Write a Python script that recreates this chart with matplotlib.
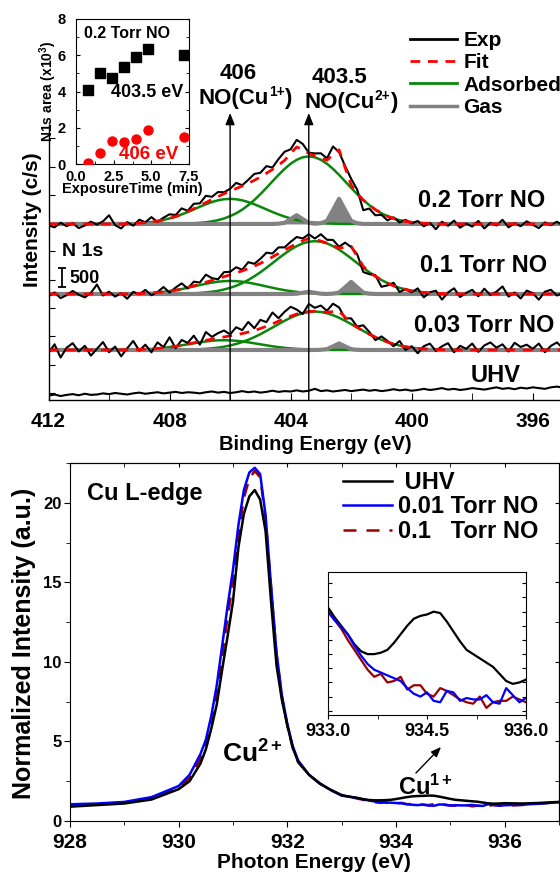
import numpy as np
import matplotlib
matplotlib.use('Agg')
import matplotlib.pyplot as plt
from matplotlib.lines import Line2D
from matplotlib.ticker import MultipleLocator, NullFormatter

plt.rcParams['font.family'] = ['Liberation Sans', 'DejaVu Sans']
plt.rcParams['font.weight'] = 'bold'
plt.rcParams['axes.labelweight'] = 'bold'
plt.rcParams['mathtext.fontset'] = 'custom'
plt.rcParams['mathtext.rm'] = 'Liberation Sans:bold'
plt.rcParams['mathtext.bf'] = 'Liberation Sans:bold'
plt.rcParams['mathtext.it'] = 'Liberation Sans:bold'
plt.rcParams['mathtext.default'] = 'bf'

# ---------------- N 1s XPS (top panel) ----------------
# binding energy grid, 0.2 eV steps from 412 to 395 eV
be = np.round(412.0 - 0.2 * np.arange(86), 1)

# adsorbed components (counts), listed from their first energy
ads_02_big_start, ads_02_big = 407.4, [11, 18, 29, 45, 68, 100, 145, 206, 283, 379, 498, 634, 789, 956, 1129, 1300, 1459, 1595, 1700, 1767, 1790, 1767, 1700, 1595, 1459, 1300, 1129, 956, 789, 634, 498, 379, 283, 206, 145, 100, 68, 45, 29, 18, 11]
ads_02_small_start, ads_02_small = 409.4, [9, 14, 22, 35, 51, 75, 106, 146, 196, 253, 317, 386, 456, 522, 581, 626, 655, 665, 655, 626, 581, 522, 456, 386, 317, 253, 196, 146, 106, 75, 51, 35, 22, 14, 9]
gas_02_start, gas_02 = 404.4, [7, 28, 128, 233, 128, 28, 7, 20, 80, 366, 665, 366, 80, 20]

ads_01_big_start, ads_01_big = 407.4, [11, 17, 27, 41, 59, 84, 119, 162, 218, 288, 371, 468, 575, 694, 818, 944, 1064, 1175, 1268, 1340, 1385, 1400, 1385, 1340, 1268, 1175, 1064, 944, 818, 694, 575, 468, 371, 288, 218, 162, 119, 84, 59, 41, 27, 17, 11]
ads_01_small_start, ads_01_small = 409.4, [4, 7, 11, 18, 27, 39, 55, 76, 101, 131, 165, 200, 236, 271, 301, 325, 340, 345, 340, 325, 301, 271, 236, 200, 165, 131, 101, 76, 55, 39, 27, 18, 11, 7, 4]
gas_01_start, gas_01 = 403.8, [7, 33, 60, 33, 7, 0, 10, 38, 176, 320, 176, 38, 10]

ads_003_big_start, ads_003_big = 407.4, [8, 12, 19, 30, 43, 61, 87, 118, 159, 210, 270, 340, 418, 505, 595, 686, 774, 854, 922, 974, 1007, 1018, 1007, 974, 922, 854, 774, 686, 595, 505, 418, 340, 270, 210, 159, 118, 87, 61, 43, 30, 19, 12, 8]
ads_003_small_start, ads_003_small = 409.6, [3, 5, 9, 13, 20, 29, 41, 57, 76, 98, 124, 150, 177, 203, 226, 244, 255, 259, 255, 244, 226, 203, 177, 150, 124, 98, 76, 57, 41, 29, 20, 13, 9, 5, 3]
gas_003_start, gas_003 = 403.0, [5, 21, 95, 173, 95, 21, 5]

# measured minus fit (counts), one value per grid point
resid_02 = [-40, -90, 30, -60, 20, -110, -40, 60, -20, 70,
            230, -30, -120, 40, -60, 90, 10, 130, -20, 60,
            110, 40, 160, 20, 130, 60, 180, 70, 120, 40,
            60, 150, 20, 90, 170, 110, 190, 50, 160, 230,
            110, 190, 150, 20, 60, 130, 50, 220, -60, 40,
            160, 100, -270, -90, -150, -40, -110, 30, -60, 40,
            -30, 50, -80, 20, -140, 60, -50, 90, -100, 10,
            -70, 80, -120, 30, -40, 110, -90, 20, -60, 70,
            -20, -110, 40, -30, 60, -50]
resid_01 = [-60, 40, -110, -30, 80, -20, -90, 30, 250, -40,
            60, -70, 20, -130, 50, -20, 90, -60, 10, 130,
            -40, 70, 150, -30, 110, 40, 200, 60, -20, 120,
            80, 150, 30, 170, 60, 120, 200, 90, 160, 70,
            130, 180, 60, 110, 20, 180, 90, 150, 40, 120,
            -20, 60, -150, -60, 30, -180, -60, 80, -110, 10,
            -40, 90, -130, 20, 70, -160, 40, 150, -80, 30,
            110, -60, 140, -30, 60, 200, -70, 40, -120, 90,
            20, -150, 60, 110, -40, 30]
resid_003 = [-80, 150, -200, 60, 180, -40, 110, -150, 30, 210,
             -60, 90, -170, 40, 230, -30, 120, -90, 160, 20,
             260, -50, 140, 30, 190, -80, 220, 60, 130, 170,
             40, 200, 90, 270, 60, 230, 110, 300, 80, 180,
             250, 120, -40, 200, 90, 160, 40, 210, 100, -30,
             130, 20, 150, 60, -80, 90, 30, -60, 120, -90,
             40, -130, 70, 150, -40, 90, 180, -60, 110, 30,
             170, -50, 120, 200, 60, 150, -40, 190, 80, 140,
             30, 170, -60, 110, 200, 40]
uhv = [-70, -40, -80, -50, -30, -60, -20, -50, -40, -10,
       -30, 0, -20, -40, -10, 10, -20, 0, 20, -10,
       10, 30, 0, 20, 10, -10, 20, 40, 10, 30,
       0, 20, 50, 20, 40, 10, 30, 60, 30, 50,
       40, 70, 40, 60, 110, 50, 70, 40, 60, 80,
       50, 70, 90, 60, 80, 50, 70, 100, 70, 90,
       60, 80, 110, 80, 100, 130, 90, 110, 80, 100,
       130, 110, 90, 120, 150, 110, 130, 100, 140, 120,
       150, 130, 110, 150, 170, 140]

pressure_labels = ['0.2 Torr NO', '0.1 Torr NO', '0.03 Torr NO', 'UHV']
peak_positions = [406.0, 403.4]

# inset: N1s areas vs exposure time at 0.2 Torr
t_min = [0.8, 1.6, 2.4, 3.2, 4.0, 4.8, 7.2]
area_4035 = [4.08, 5.0, 4.76, 5.37, 5.89, 6.36, 6.01]
area_406 = [0.04, 0.63, 1.29, 1.23, 1.38, 1.89, 1.49]

# ---------------- Cu L-edge XAS (bottom panel) ----------------
pe_main = [928.0, 928.5, 929.0, 929.5, 930.0, 930.2, 930.4, 930.5, 930.6, 930.7,
           930.8, 930.9, 931.0, 931.1, 931.2, 931.3, 931.4, 931.5, 931.6, 931.7,
           931.8, 931.9, 932.0, 932.1, 932.2, 932.4, 932.6, 932.8]
uhv_main = [0.9, 1.0, 1.1, 1.35, 2.0, 2.5, 3.6, 4.5, 5.8, 7.3,
            9.5, 11.6, 13.8, 17.2, 19.3, 20.4, 20.8, 20.2, 18.2, 13.8,
            9.8, 7.6, 6.0, 4.6, 3.7, 2.9, 2.35, 1.95]
no001_main = [1.05, 1.1, 1.2, 1.5, 2.2, 2.9, 4.2, 5.1, 6.6, 8.5,
              11.0, 13.5, 15.8, 18.6, 20.8, 21.9, 22.2, 21.8, 19.2, 14.8,
              10.6, 7.9, 6.1, 4.7, 3.8, 2.9, 2.35, 1.95]
no01_main = [1.0, 1.05, 1.15, 1.45, 2.1, 2.7, 3.9, 4.8, 6.2, 8.0,
             10.3, 12.8, 15.0, 18.0, 20.3, 21.5, 22.0, 21.6, 19.0, 14.7,
             10.5, 7.8, 6.0, 4.6, 3.7, 2.9, 2.35, 1.95]

pe_zoom = np.round(933.0 + 0.1 * np.arange(31), 1)
uhv_zoom = [1.63, 1.56, 1.50, 1.44, 1.37, 1.32, 1.30, 1.30, 1.31, 1.33,
            1.38, 1.44, 1.50, 1.55, 1.57, 1.58, 1.60, 1.59, 1.53, 1.46,
            1.39, 1.33, 1.30, 1.27, 1.24, 1.21, 1.16, 1.11, 1.09, 1.10, 1.12]
no001_zoom = [1.60, 1.54, 1.49, 1.44, 1.36, 1.29, 1.23, 1.19, 1.17, 1.15,
              1.13, 1.11, 1.06, 1.02, 1.00, 1.03, 0.97, 0.96, 1.04, 1.03,
              0.97, 0.99, 0.98, 0.98, 1.01, 0.96, 0.95, 1.06, 1.01, 0.96, 0.99]
no01_zoom = [1.60, 1.54, 1.48, 1.40, 1.33, 1.26, 1.19, 1.14, 1.16, 1.10,
             1.11, 1.14, 1.05, 1.08, 1.08, 1.02, 1.00, 1.06, 1.04, 1.01,
             0.98, 0.96, 0.95, 1.00, 0.92, 0.96, 0.97, 0.97, 1.00, 0.98, 0.96]

pe_tail = [936.3, 936.6, 937.0]
uhv_tail = [1.1, 1.13, 1.2]
no001_tail = [1.02, 1.08, 1.18]
no01_tail = [1.0, 1.08, 1.18]

W, H = 560, 873


def rect(x0, y0, x1, y1):
    return [x0 / W, 1 - y1 / H, (x1 - x0) / W, (y1 - y0) / H]


def fpos(x, y):
    return x / W, 1 - y / H


def on_grid(start, vals):
    arr = np.zeros(len(be))
    i0 = int(round((412.0 - start) / 0.2))
    arr[i0:i0 + len(vals)] = vals
    return arr


fig = plt.figure(figsize=(W / 100, H / 100), dpi=100)
renderer = fig.canvas.get_renderer()


def sup_label(xc, yb, base, sup, tail, fs):
    # text with a superscript, built from plain pieces and centred on xc
    parts = [(base, fs, 0), (sup, fs * 0.62, fs * 0.34 * 100 / 72), (tail, fs, 0)]
    texts = [fig.text(0, 0, s, fontsize=f, ha='left', va='baseline') for s, f, _ in parts]
    widths = [t.get_window_extent(renderer).width for t in texts]
    x = xc - sum(widths) / 2
    for t, w, (_, _, rise) in zip(texts, widths, parts):
        t.set_position(fpos(x, yb - rise))
        x += w


# ---------- top panel ----------
ax = fig.add_axes(rect(48.5, 0, 560, 399.6))
ax.patch.set_alpha(0)
ax.set_xlim(412, 395.1)
ax.set_ylim(-175, 10415)
for s in ['top', 'right']:
    ax.spines[s].set_visible(False)
ax.spines['left'].set_bounds(-175, 7102)
ax.spines['left'].set_linewidth(1.0)
ax.spines['bottom'].set_linewidth(1.0)
ax.set_yticks(np.arange(0, 7000, 750))
ax.yaxis.set_major_formatter(NullFormatter())
ax.tick_params(axis='y', direction='in', length=4)
ax.set_xticks([412, 408, 404, 400, 396])
ax.xaxis.set_minor_locator(MultipleLocator(2))
ax.tick_params(axis='x', which='both', direction='in', length=5, labelsize=15, pad=9)

green = '#0a870a'
grey = '#828282'
offsets = [4480, 2624, 1140]
comps = [
    (on_grid(ads_02_big_start, ads_02_big), on_grid(ads_02_small_start, ads_02_small), on_grid(gas_02_start, gas_02), resid_02),
    (on_grid(ads_01_big_start, ads_01_big), on_grid(ads_01_small_start, ads_01_small), on_grid(gas_01_start, gas_01), resid_01),
    (on_grid(ads_003_big_start, ads_003_big), on_grid(ads_003_small_start, ads_003_small), on_grid(gas_003_start, gas_003), resid_003),
]
for off, (big, small, gas, res) in zip(offsets, comps):
    fit = big + small + gas
    ax.plot(be, off + big, color=green, lw=1.8)
    ax.plot(be, off + small, color=green, lw=1.8)
    ax.fill_between(be, off, off + gas, color=grey, lw=0)
    ax.plot(be, off + gas, color=grey, lw=3)
    ax.plot(be, off + fit + np.array(res), color='k', lw=1.5)
    ax.plot(be, off + fit, color='#ff0000', lw=2, dashes=(3.5, 2.8))
ax.plot(be, np.array(uhv), color='k', lw=1.5)

for e in peak_positions:
    ax.annotate('', xy=(e, 7420), xytext=(e, -175), annotation_clip=False,
                arrowprops=dict(arrowstyle='-|>,head_length=0.5,head_width=0.2',
                                color='k', lw=1.0, shrinkA=0, shrinkB=0, mutation_scale=14))

# scale bar 500 c/s
ax.errorbar([411.55], [2809 + 250], yerr=250, color='k', lw=1.3, capsize=3, capthick=1.3)
fig.text(*fpos(69, 283), '500', fontsize=13, ha='left', va='baseline')
fig.text(*fpos(62, 256), 'N 1s', fontsize=14, ha='left', va='baseline')

label_xy = [(418, 207), (420, 272), (414, 332), (471, 382)]
for (lx, ly), lab in zip(label_xy, pressure_labels):
    fig.text(*fpos(lx, ly), lab, fontsize=17, ha='left', va='baseline')

fig.text(*fpos(238, 79), '406', fontsize=16, ha='center', va='baseline')
sup_label(245, 104, 'NO(Cu', '1+', ')', 16)
fig.text(*fpos(340, 83), '403.5', fontsize=16, ha='center', va='baseline')
sup_label(351, 108, 'NO(Cu', '2+', ')', 16)

fig.text(*fpos(315, 444), 'Binding Energy (eV)', fontsize=14.5, ha='center', va='center')
fig.text(*fpos(32, 220), 'Intensity (c/s)', fontsize=15, ha='center', va='center', rotation=90)

handles = [Line2D([], [], color='k', lw=2),
           Line2D([], [], color='#ff0000', lw=2, dashes=(3.5, 2.8)),
           Line2D([], [], color=green, lw=2),
           Line2D([], [], color=grey, lw=2.5)]
fig.legend(handles, ['Exp', 'Fit', 'Adsorbed', 'Gas'], loc='upper left',
           bbox_to_anchor=fpos(410, 31), frameon=False, fontsize=15,
           handlelength=2.26, handletextpad=0.3, labelspacing=0.16,
           borderpad=0, borderaxespad=0)

# inset (top)
axi = fig.add_axes(rect(76, 19, 189, 164))
axi.scatter(t_min, area_4035, marker='s', s=42, color='k', zorder=3)
axi.scatter(t_min, area_406, marker='o', s=42, color='#ff0000', zorder=3)
axi.set_xlim(0, 7.5)
axi.set_ylim(0, 8)
axi.set_xticks([0, 2.5, 5, 7.5])
axi.set_xticklabels(['0.0', '2.5', '5.0', '7.5'])
axi.set_yticks([0, 2, 4, 6, 8])
axi.yaxis.set_minor_locator(MultipleLocator(1))
axi.xaxis.set_minor_locator(MultipleLocator(1.25))
axi.tick_params(which='both', direction='in', right=True, length=3)
axi.tick_params(which='minor', length=2)
axi.tick_params(axis='x', labelsize=10.5, pad=4)
axi.tick_params(axis='y', labelsize=10.5, pad=7.5)
axi.set_xlabel('ExposureTime (min)', fontsize=10.5, labelpad=-1)
axi.set_ylabel(r'N1s area (x10$^3$)', fontsize=10, labelpad=-1)
axi.text(0.55, 7.2, '0.2 Torr NO', fontsize=11.5, ha='left', va='center')
axi.text(2.3, 3.97, '403.5 eV', fontsize=13, ha='left', va='center')
axi.text(2.85, 0.5, '406 eV', fontsize=13.5, ha='left', va='center', color='#ff0000')

# ---------- bottom panel ----------
axb = fig.add_axes(rect(70, 463, 559, 821))
pe = np.concatenate([pe_main, pe_zoom, pe_tail])
uhv_x = np.concatenate([uhv_main, uhv_zoom, uhv_tail])
no001_x = np.concatenate([no001_main, no001_zoom, no001_tail])
no01_x = np.concatenate([no01_main, no01_zoom, no01_tail])
dark_red = '#990000'
axb.plot(pe, no01_x, color=dark_red, lw=1.8, dashes=(5.2, 4))
axb.plot(pe, no001_x, color='#0000ff', lw=1.8)
axb.plot(pe, uhv_x, color='k', lw=1.8)
axb.set_xlim(928, 937)
axb.set_ylim(0, 22.5)
axb.set_xticks([928, 930, 932, 934, 936])
axb.xaxis.set_minor_locator(MultipleLocator(1))
axb.set_yticks([0, 5, 10, 15, 20])
axb.yaxis.set_minor_locator(MultipleLocator(2.5))
axb.tick_params(axis='x', which='both', direction='out', labelsize=15, pad=5)
axb.tick_params(axis='y', which='both', direction='out', labelsize=12, pad=2)
axb.tick_params(which='major', length=4)
axb.tick_params(which='minor', length=3)
sec_x = axb.secondary_xaxis('top')
sec_x.set_xticks([928, 930, 932, 934, 936])
sec_x.xaxis.set_minor_locator(MultipleLocator(1))
sec_x.tick_params(which='both', direction='in', labeltop=False, length=3)
sec_y = axb.secondary_yaxis('right')
sec_y.set_yticks([0, 5, 10, 15, 20])
sec_y.yaxis.set_minor_locator(MultipleLocator(2.5))
sec_y.tick_params(which='both', direction='in', labelright=False, length=3)

fig.text(*fpos(24, 643), 'Normalized Intensity (a.u.)', fontsize=18, ha='center', va='center', rotation=90)
fig.text(*fpos(314, 863), 'Photon Energy (eV)', fontsize=15, ha='center', va='center')
fig.text(*fpos(87, 500), 'Cu L-edge', fontsize=17, ha='left', va='baseline')
fig.text(*fpos(222, 763), r'Cu$^{2+}$', fontsize=19, ha='left', va='baseline')
fig.text(*fpos(398, 795), r'Cu$^{1+}$', fontsize=17, ha='left', va='baseline')
fig.add_artist(matplotlib.patches.FancyArrowPatch(
    fpos(414, 775), fpos(443, 745), transform=fig.transFigure,
    arrowstyle='-|>,head_length=0.5,head_width=0.2', mutation_scale=12, color='k', lw=1))

bh = [Line2D([], [], color='k', lw=1.8),
      Line2D([], [], color='#0000ff', lw=1.8),
      Line2D([], [], color=dark_red, lw=1.8, dashes=(5.2, 4))]
axb.legend(bh, [' UHV', '0.01 Torr NO', '0.1   Torr NO'], loc='upper left',
           bbox_to_anchor=fpos(343, 471), bbox_transform=fig.transFigure,
           frameon=False, fontsize=17, handlelength=2.08, handletextpad=0.25,
           labelspacing=0.06, borderpad=0, borderaxespad=0)

# inset (bottom)
axz = fig.add_axes(rect(328, 572, 526, 715))
axz.plot(pe_zoom, uhv_zoom, color='k', lw=1.6)
axz.plot(pe_zoom, no01_zoom, color=dark_red, lw=1.6)
axz.plot(pe_zoom, no001_zoom, color='#0000ff', lw=1.6)
axz.set_xlim(933, 936)
axz.set_ylim(0.87, 1.88)
axz.set_xticks([933.0, 934.5, 936.0])
axz.set_xticklabels(['933.0', '934.5', '936.0'])
axz.xaxis.set_minor_locator(MultipleLocator(0.75))
axz.yaxis.set_major_locator(MultipleLocator(0.1))
axz.yaxis.set_major_formatter(NullFormatter())
axz.tick_params(axis='y', which='both', direction='in', right=True, length=3)
axz.tick_params(axis='x', which='both', direction='out', labelsize=13, length=3, pad=3)

fig.savefig('out.png', dpi=100)
